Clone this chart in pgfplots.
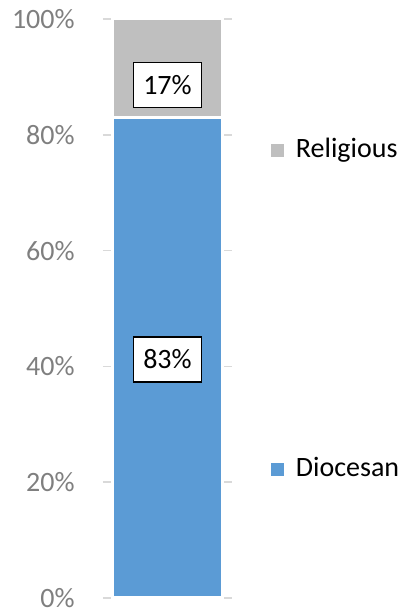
\documentclass[border=0pt]{standalone}
\usepackage{pgfplots}
\pgfplotsset{compat=1.18}
\usepackage{fontspec}
\setmainfont{Carlito}
\definecolor{dioc}{HTML}{5B9BD5}
\definecolor{relig}{HTML}{BFBFBF}
\definecolor{tickgray}{HTML}{7F7F7F}
\definecolor{gridgray}{HTML}{D9D9D9}
\begin{document}
\begin{tikzpicture}[lbl/.style={font=\fontsize{14}{17}\selectfont, text=black, fill=white, draw=black, line width=0.9pt, inner sep=0pt, minimum width=34pt, minimum height=22.5pt, anchor=center}]
\useasboundingbox (-51.5pt,-6pt) rectangle (150pt,299pt);
\begin{axis}[
 at={(0,0)}, anchor=south west, scale only axis,
 width=64.5pt, height=289.5pt,
 xmin=0, xmax=1, ymin=0, ymax=100,
 ybar stacked, bar width=54.5pt,
 ytick={0,20,40,60,80,100}, xtick=\empty,
 yticklabel={\pgfmathprintnumber{\tick}\%},
 /pgf/number format/assume math mode=true,
 yticklabel style={font=\fontsize{14}{17}\selectfont, text=tickgray, inner sep=0pt, xshift=-14pt, anchor=east},
 ymajorgrids, grid style={draw=gridgray, line width=0.75pt},
 axis line style={draw=none}, major tick style={draw=none},
 clip=false,
 legend style={draw=none, fill=none, at={(axis description cs:1.302,0.795)}, anchor=north west, inner sep=0pt, outer sep=0pt, row sep=146.5pt, column sep=6pt, nodes={inner sep=0pt, text height=10pt, text depth=3pt, font=\fontsize{14}{17}\selectfont}},
 legend cell align=left,
 legend image code/.code={\fill[#1, draw=none] (0pt,-3.25pt) rectangle (6.5pt,3.25pt);},
]
\addlegendimage{fill=relig}
\addlegendimage{fill=dioc}
\addplot[fill=dioc, draw=white, line width=1.5pt] coordinates {(0.5,83)};
\addplot[fill=relig, draw=white, line width=1.5pt] coordinates {(0.5,17)};
\legend{Religious, Diocesan}
\coordinate (ldioc) at (axis cs:0.5,41.2);
\coordinate (lrelig) at (axis cs:0.5,88.6);
\end{axis}
\node[lbl] at (ldioc) {83\%};
\node[lbl] at (lrelig) {17\%};
\end{tikzpicture}
\end{document}
